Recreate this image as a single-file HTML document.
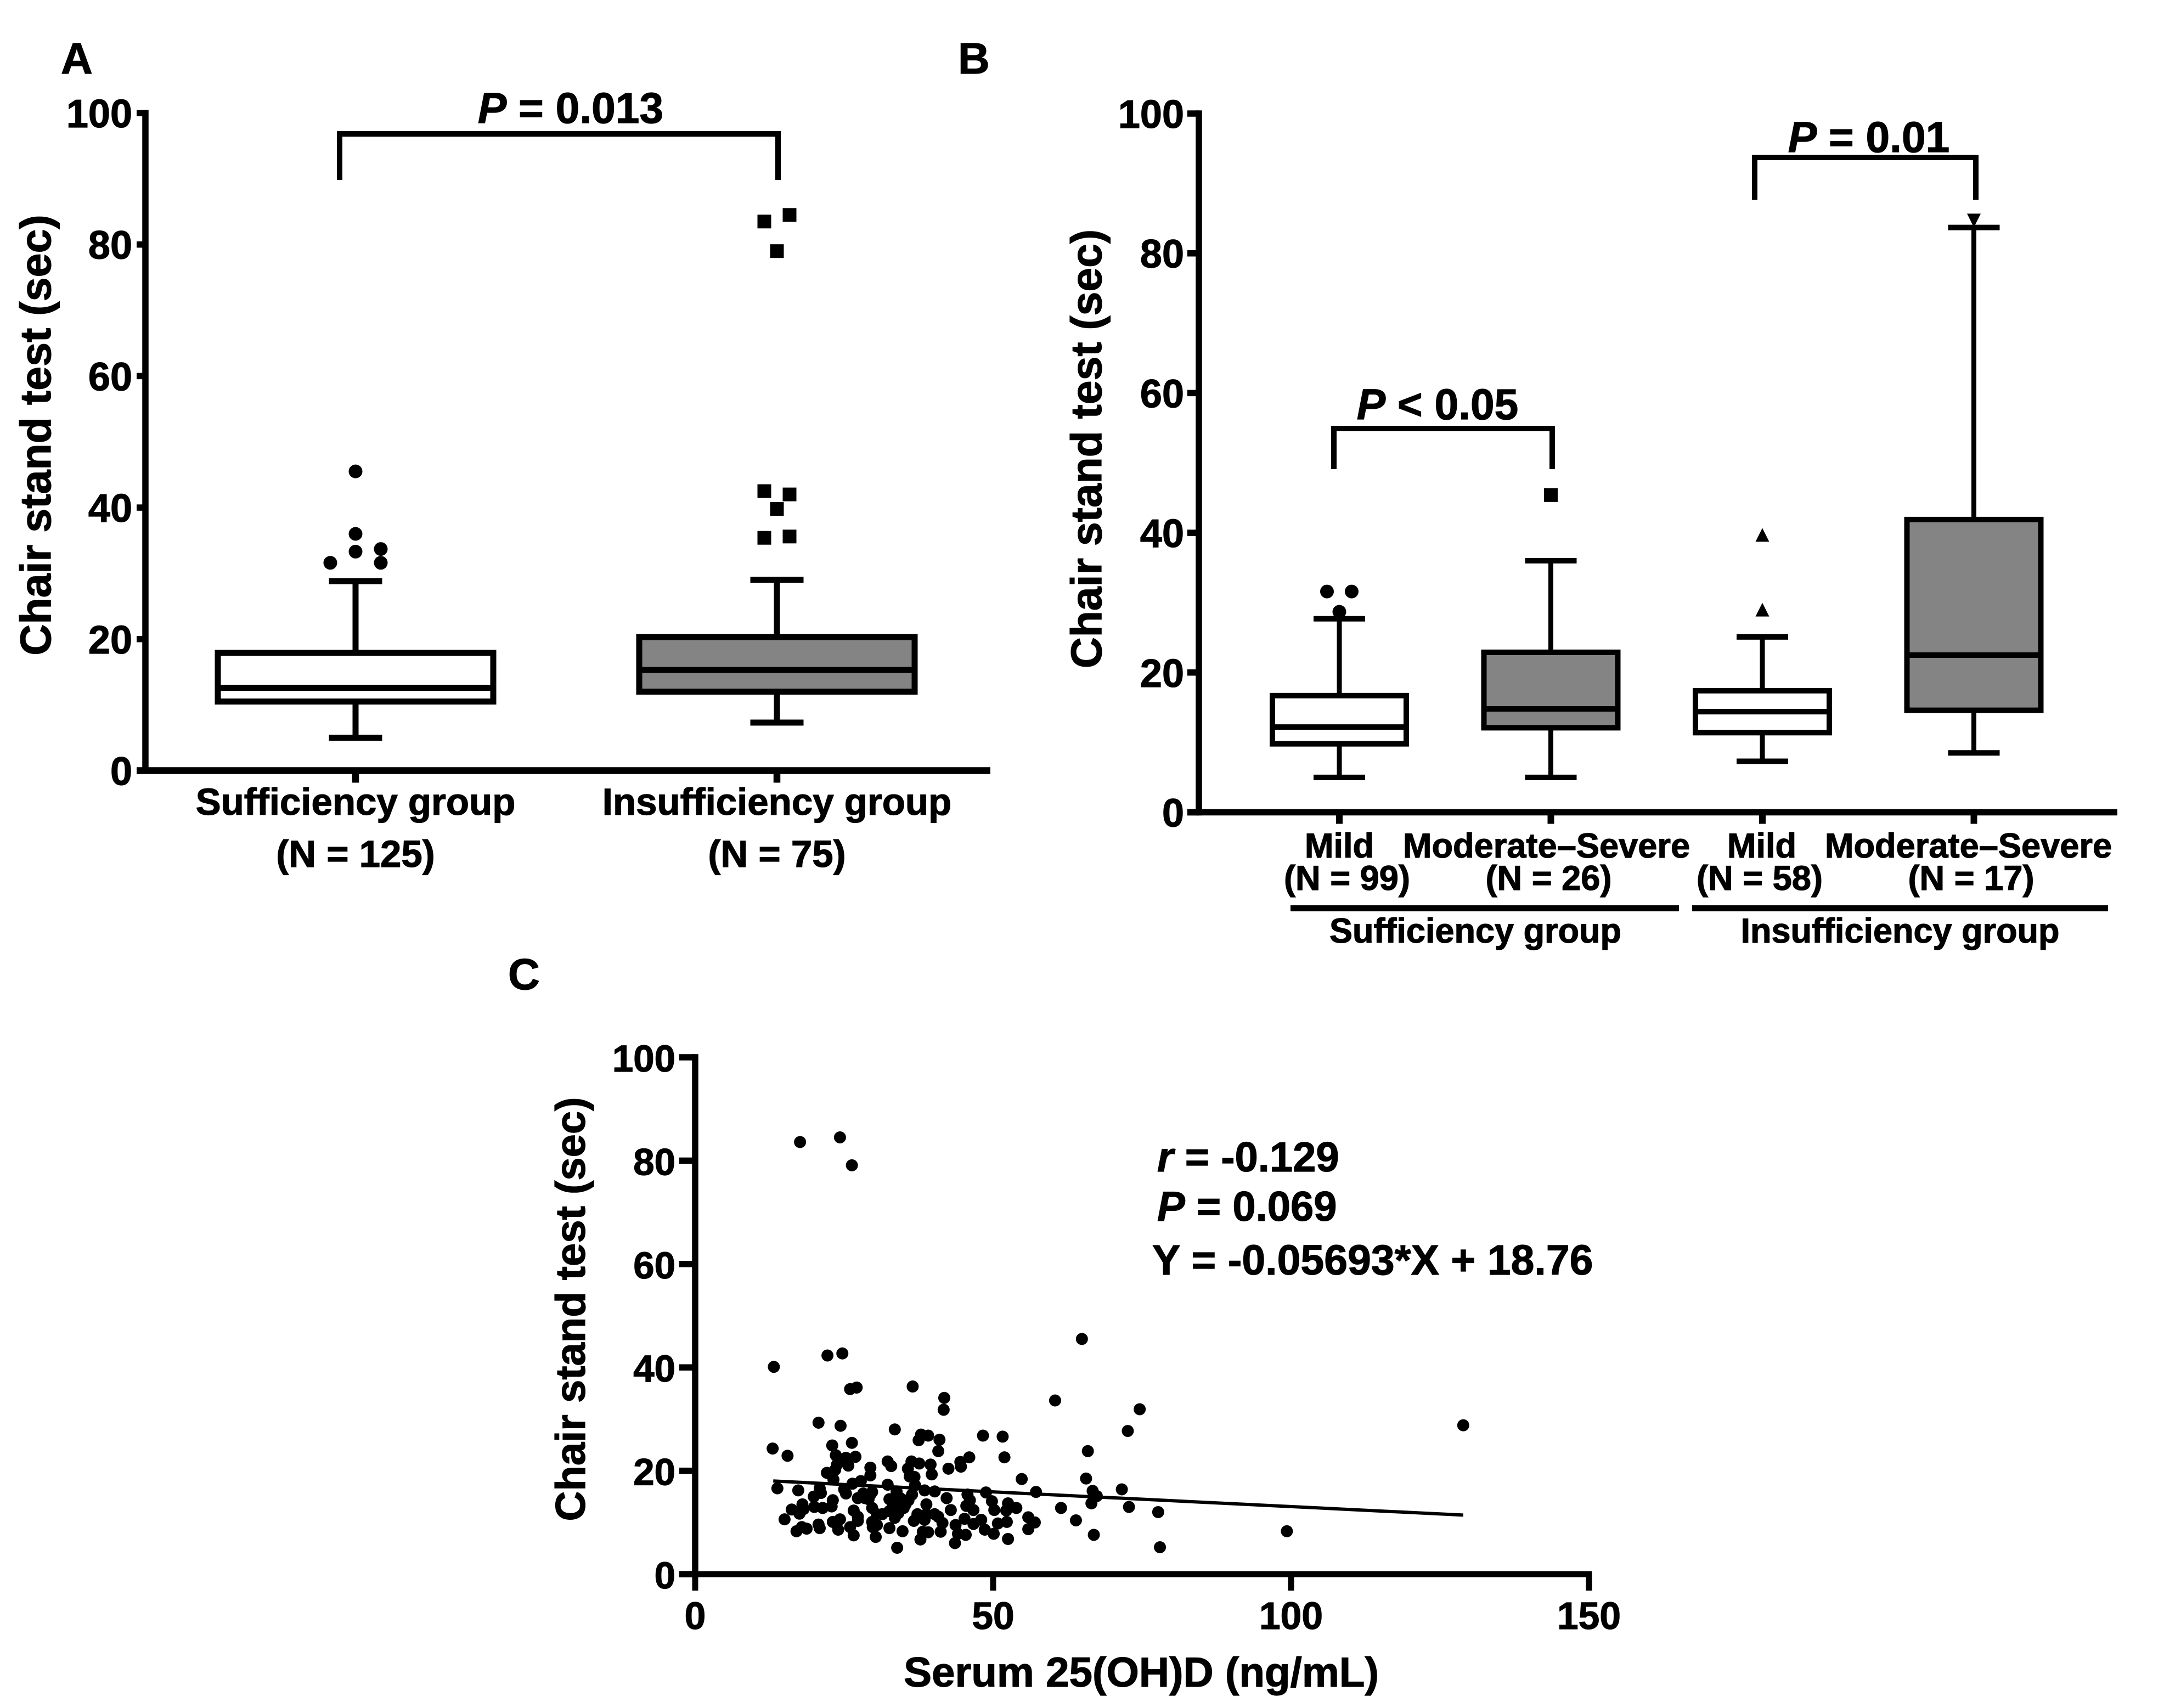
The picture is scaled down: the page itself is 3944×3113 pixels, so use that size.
<!DOCTYPE html>
<html>
<head>
<meta charset="utf-8">
<title>Chair stand test by vitamin D group</title>
<style>
html,body{margin:0;padding:0;background:#fff;}
svg{display:block;}
text{font-family:"Liberation Sans",Arial,sans-serif;font-weight:bold;fill:#000;stroke:#000;stroke-width:1.2px;}
</style>
</head>
<body>
<svg id="fig" xmlns="http://www.w3.org/2000/svg" width="3944" height="3113" viewBox="0 0 3944 3113">
<rect width="3944" height="3113" fill="#fff"/>

<text x="111" y="134" font-size="80">A</text>
<text x="1746" y="134" font-size="80">B</text>
<text x="926" y="1803" font-size="80">C</text>

<text transform="translate(92,793) rotate(-90)" text-anchor="middle" font-size="79">Chair stand test (sec)</text>
<text transform="translate(2007,818) rotate(-90)" text-anchor="middle" font-size="78.7">Chair stand test (sec)</text>
<text transform="translate(1066,2386) rotate(-90)" text-anchor="middle" font-size="76">Chair stand test (sec)</text>
<text x="2080" y="3074" text-anchor="middle" font-size="76.4">Serum 25(OH)D (ng/mL)</text>

<path d="M619 328V244H1418V328" fill="none" stroke="#000" stroke-width="10"/>
<text x="1040" y="224" text-anchor="middle" font-size="78.5"><tspan font-style="italic">P</tspan> = 0.013</text>

<path d="M2431 855V781H2829V855" fill="none" stroke="#000" stroke-width="10"/>
<text x="2620" y="764" text-anchor="middle" font-size="78.5"><tspan font-style="italic">P</tspan> &lt; 0.05</text>
<path d="M3198 364V287H3601V364" fill="none" stroke="#000" stroke-width="10"/>
<text x="3406" y="277" text-anchor="middle" font-size="78.5"><tspan font-style="italic">P</tspan> = 0.01</text>

<rect x="2352" y="1650" width="708" height="11" fill="#000"/>
<rect x="3084" y="1650" width="758" height="11" fill="#000"/>
<text x="2689" y="1718" text-anchor="middle" font-size="63">Sufficiency group</text>
<text x="3463" y="1718" text-anchor="middle" font-size="63">Insufficiency group</text>

<text x="2109" y="2135" font-size="76"><tspan font-style="italic">r</tspan> = -0.129</text>
<text x="2109" y="2225" font-size="76"><tspan font-style="italic">P</tspan> = 0.069</text>
<text x="2100" y="2323" font-size="77">Y = -0.05693*X + 18.76</text>

<g id="plots"></g>
</svg>

<script>
// Panel A values
const aCategories = ['Sufficiency group', 'Insufficiency group'];
const aCounts = ['(N = 125)', '(N = 75)'];
const aMin = [5, 7.3];
const aQ1 = [10.5, 12];
const aMedian = [12.6, 15.3];
const aQ3 = [17.9, 20.3];
const aMax = [28.8, 29];
const aOutliers = [[45.5, 36, 33.3, 33.7, 31.6, 31.6], [84.5, 83.5, 79, 42.5, 42, 39.8, 35.6, 35.4]];
const aOutlierJitter = [[0, 0, 0, 1, -1, 1], [0.5, -0.5, 0, -0.5, 0.5, 0, 0.5, -0.5]];

// Panel B values
const bCategories = ['Mild', 'Moderate–Severe', 'Mild', 'Moderate–Severe'];
const bCounts = ['(N = 99)', '(N = 26)', '(N = 58)', '(N = 17)'];
const bMin = [5, 5, 7.3, 8.5];
const bQ1 = [9.8, 12.1, 11.4, 14.6];
const bMedian = [12.2, 14.8, 14.4, 22.5];
const bQ3 = [16.7, 22.9, 17.4, 41.9];
const bMax = [27.7, 36, 25.1, 83.7];
const bOutliers = [[31.6, 31.6, 28.7], [45.4], [39.7, 29], [84.7]];
const bOutlierJitter = [[-1, 1, 0], [0], [0, 0], [0]];

// Panel C values
const yTicks = [0, 20, 40, 60, 80, 100];
const cXTicks = [0, 50, 100, 150];
const regressionSlope = -0.05693;
const regressionIntercept = 18.76;
const regressionXStart = 13.1;
const regressionXEnd = 128.9;
const serumValues = [13.2,22.2,24.7,64.9,26.0,27.1,36.5,41.8,41.7,60.4,74.6,20.7,24.4,33.5,72.6,48.3,51.6,37.9,39.1,37.5,41.0,40.8,26.3,23.0,13.0,15.5,65.9,23.6,26.9,25.3,46.0,51.9,32.3,32.9,36.3,37.6,39.5,25.7,44.5,44.6,42.5,29.4,35.7,23.8,23.5,29.4,22.1,39.7,36.0,36.8,23.2,54.8,65.6,27.8,26.4,32.3,36.9,25.0,25.3,20.9,21.1,13.8,17.3,48.8,57.2,66.7,71.6,67.4,40.2,38.5,29.7,28.2,27.3,29.1,33.8,36.4,32.6,42.2,45.7,46.1,49.8,19.9,18.0,23.1,38.8,66.5,52.5,53.9,61.4,72.8,77.7,45.5,35.0,33.8,29.7,16.2,18.2,20.0,21.4,22.9,17.5,26.6,27.3,42.9,46.7,50.2,52.2,33.8,35.0,32.6,31.4,37.3,38.8,40.2,34.1,33.5,30.5,45.2,48.0,36.7,38.5,15.0,40.8,41.5,55.9,57.0,63.9,52.3,50.8,46.7,43.7,24.3,23.1,20.7,27.3,29.7,30.5,20.9,26.0,32.6,24.0,29.8,18.7,17.0,17.9,34.8,41.2,48.6,55.9,39.1,38.2,45.4,50.1,44.1,26.6,30.3,37.8,52.5,66.9,43.6,33.9,78.0,17.6,24.3,26.3,99.3,128.9,34.4,35.3,33.2,35.8,28.5,29.4];
const chairValues = [40.1,42.3,42.7,45.5,35.8,36.1,36.3,34.1,31.8,33.6,31.9,29.3,28.7,28.0,27.7,26.8,26.6,27.0,26.8,25.9,26.0,23.8,25.4,24.9,24.3,22.9,23.8,23.0,22.7,22.5,22.6,22.6,21.8,20.9,21.8,21.4,21.2,21.0,21.7,20.8,20.4,20.6,20.4,21.2,20.2,19.1,19.6,19.3,18.9,18.8,18.3,18.4,18.5,18.0,17.5,17.3,17.2,16.4,15.6,16.6,15.7,16.6,16.2,15.8,15.9,16.1,16.4,15.1,16.0,16.2,15.9,15.6,14.7,14.5,16.0,15.4,14.5,14.7,15.4,14.3,14.1,15.0,13.5,14.3,13.5,13.7,13.7,12.8,12.8,13.0,12.0,13.2,14.3,13.9,12.8,12.5,12.6,13.0,12.8,13.1,11.7,12.3,11.1,12.4,12.4,12.4,12.3,13.0,12.8,12.2,11.6,11.6,11.6,11.6,11.8,10.9,11.6,10.7,10.5,10.3,10.5,10.6,11.1,9.9,11.0,10.0,10.4,10.1,9.8,9.7,9.5,10.6,10.1,9.6,10.3,10.1,9.5,8.9,9.1,8.9,8.6,9.1,8.8,8.3,9.1,8.3,8.2,8.6,8.7,8.1,8.2,7.6,7.8,7.8,7.5,7.2,6.7,6.8,7.6,6.0,5.1,5.2,83.6,84.5,79.1,8.3,28.8,14.7,13.5,13.2,14.3,14.7,15.4];

// Axis functions
const yA = v => 1404.5 - v * 11.985;
const xA = i => 648 + i * 768;
const yB = v => 1480.5 - v * 12.735;
const xB = i => 2441 + i * 385.5;
const yC = v => 2869 - v * 9.42;
const xC = v => 1267 + v * 10.86;

const NS = 'http://www.w3.org/2000/svg';
const root = document.getElementById('plots');

function shape(tag, attrs) {
  const el = document.createElementNS(NS, tag);
  for (const k in attrs) el.setAttribute(k, attrs[k]);
  root.appendChild(el);
  return el;
}
function line(x1, y1, x2, y2, w) {
  return shape('line', {x1: x1, y1: y1, x2: x2, y2: y2, stroke: '#000', 'stroke-width': w});
}
function label(str, x, y, size, anchor) {
  const el = shape('text', {x: x, y: y, 'font-size': size, 'text-anchor': anchor});
  el.textContent = str;
  return el;
}

function drawYAxis(panel, x, yFn, tickLen, labelRight, w, size) {
  const axis = line(x, yFn(100) - w / 2, x, yFn(0) + w / 2, w);
  
  
  yTicks.forEach(t => {
    const tick = line(x - tickLen, yFn(t), x, yFn(t), w);
    
    
    const txt = label(String(t), labelRight, yFn(t) + 26, size, 'end');
    
    
  });
}

function drawBoxes(panel, xFn, yFn, mins, q1s, meds, q3s, maxs, halfBox, halfCap, sw, wsw, fills) {
  mins.forEach((_, i) => {
    const cx = xFn(i);
    const upper = line(cx, yFn(maxs[i]), cx, yFn(q3s[i]), wsw);
    
    
    const lower = line(cx, yFn(q1s[i]), cx, yFn(mins[i]), wsw);
    
    
    const capTop = line(cx - halfCap, yFn(maxs[i]), cx + halfCap, yFn(maxs[i]), sw);
    
    
    const capBottom = line(cx - halfCap, yFn(mins[i]), cx + halfCap, yFn(mins[i]), sw);
    
    
    const box = shape('rect', {x: cx - halfBox, y: yFn(q3s[i]), width: halfBox * 2, height: yFn(q1s[i]) - yFn(q3s[i]), fill: fills[i], stroke: '#000', 'stroke-width': sw});
    
    
    const med = line(cx - halfBox, yFn(meds[i]), cx + halfBox, yFn(meds[i]), sw);
    
    
  });
}

function marker(kind, x, y, s) {
  if (kind === 'circle') return shape('circle', {cx: x, cy: y, r: s / 2, fill: '#000'});
  if (kind === 'square') return shape('rect', {x: x - s / 2, y: y - s / 2, width: s, height: s, fill: '#000'});
  if (kind === 'up') return shape('polygon', {points: (x - s / 2) + ',' + (y + s / 2) + ' ' + (x + s / 2) + ',' + (y + s / 2) + ' ' + x + ',' + (y - s / 2), fill: '#000'});
  return shape('polygon', {points: (x - s / 2) + ',' + (y - s / 2) + ' ' + (x + s / 2) + ',' + (y - s / 2) + ' ' + x + ',' + (y + s / 2), fill: '#000'});
}

function drawOutliers(panel, xFn, yFn, vals, jit, step, kinds, s) {
  vals.forEach((group, i) => {
    group.forEach((v, j) => {
      const m = marker(kinds[i], xFn(i) + jit[i][j] * step, yFn(v), s);
      
      
    });
  });
}

/* Panel A */
drawYAxis('panel-a', 265, yA, 16, 241, 11.5, 72);
const aBase = line(249, yA(0), 1805, yA(0), 12.5);


aCategories.forEach((c, i) => {
  const tick = line(xA(i), yA(0), xA(i), yA(0) + 22, 12.5);
  
  
  const t = label(c, xA(i), 1485, 69, 'middle');
  
  
  const n = label(aCounts[i], xA(i), 1580, 69, 'middle');
  
  
});
drawBoxes('panel-a', xA, yA, aMin, aQ1, aMedian, aQ3, aMax, 251, 48.5, 11, 11, ['#fff', '#848484']);
const aKinds = ['circle', 'square'];
aOutliers[0].forEach((v, j) => {
  const m = marker(aKinds[0], xA(0) + aOutlierJitter[0][j] * 46, yA(v), 25);
  
  
});
aOutliers[1].forEach((v, j) => {
  const m = marker(aKinds[1], xA(1) + aOutlierJitter[1][j] * 46, yA(v), 25);
  
  
});

/* Panel B */
drawYAxis('panel-b', 2185, yB, 21, 2158, 11.5, 72);
const bBase = line(2164, yB(0), 3859, yB(0), 11.5);


const bLabelOffset = [0, -8, -1, -10];
const bCountOffset = [14, -4, -5, -5];
bCategories.forEach((c, i) => {
  const tick = line(xB(i), yB(0), xB(i), yB(0) + 21, 12);
  
  
  const t = label(c, xB(i) + bLabelOffset[i], 1563, 63.2, 'middle');
  
  
  const n = label(bCounts[i], xB(i) + bCountOffset[i], 1622, 63.2, 'middle');
  
  
});
drawBoxes('panel-b', xB, yB, bMin, bQ1, bMedian, bQ3, bMax, 122, 47, 10, 9, ['#fff', '#848484', '#fff', '#848484']);
drawOutliers('panel-b', xB, yB, bOutliers, bOutlierJitter, 22.5, ['circle', 'square', 'up', 'down'], 25);

/* Panel C */
drawYAxis('panel-c', 1267, yC, 29, 1231, 11.5, 69);
const cBase = line(1238, yC(0), xC(150) + 5, yC(0), 11);


cXTicks.forEach(t => {
  const tick = line(xC(t), yC(0), xC(t), yC(0) + 30, 11);
  
  
  const txt = label(String(t), xC(t), 2969, 69.5, 'middle');
  
  
});
serumValues.forEach((sv, i) => {
  const pt = shape('circle', {cx: xC(sv), cy: yC(chairValues[i]), r: 11, fill: '#000'});
  
  
});
const reg = line(xC(regressionXStart), yC(regressionSlope * regressionXStart + regressionIntercept), xC(regressionXEnd), yC(regressionSlope * regressionXEnd + regressionIntercept), 6);


</script>
</body>
</html>
